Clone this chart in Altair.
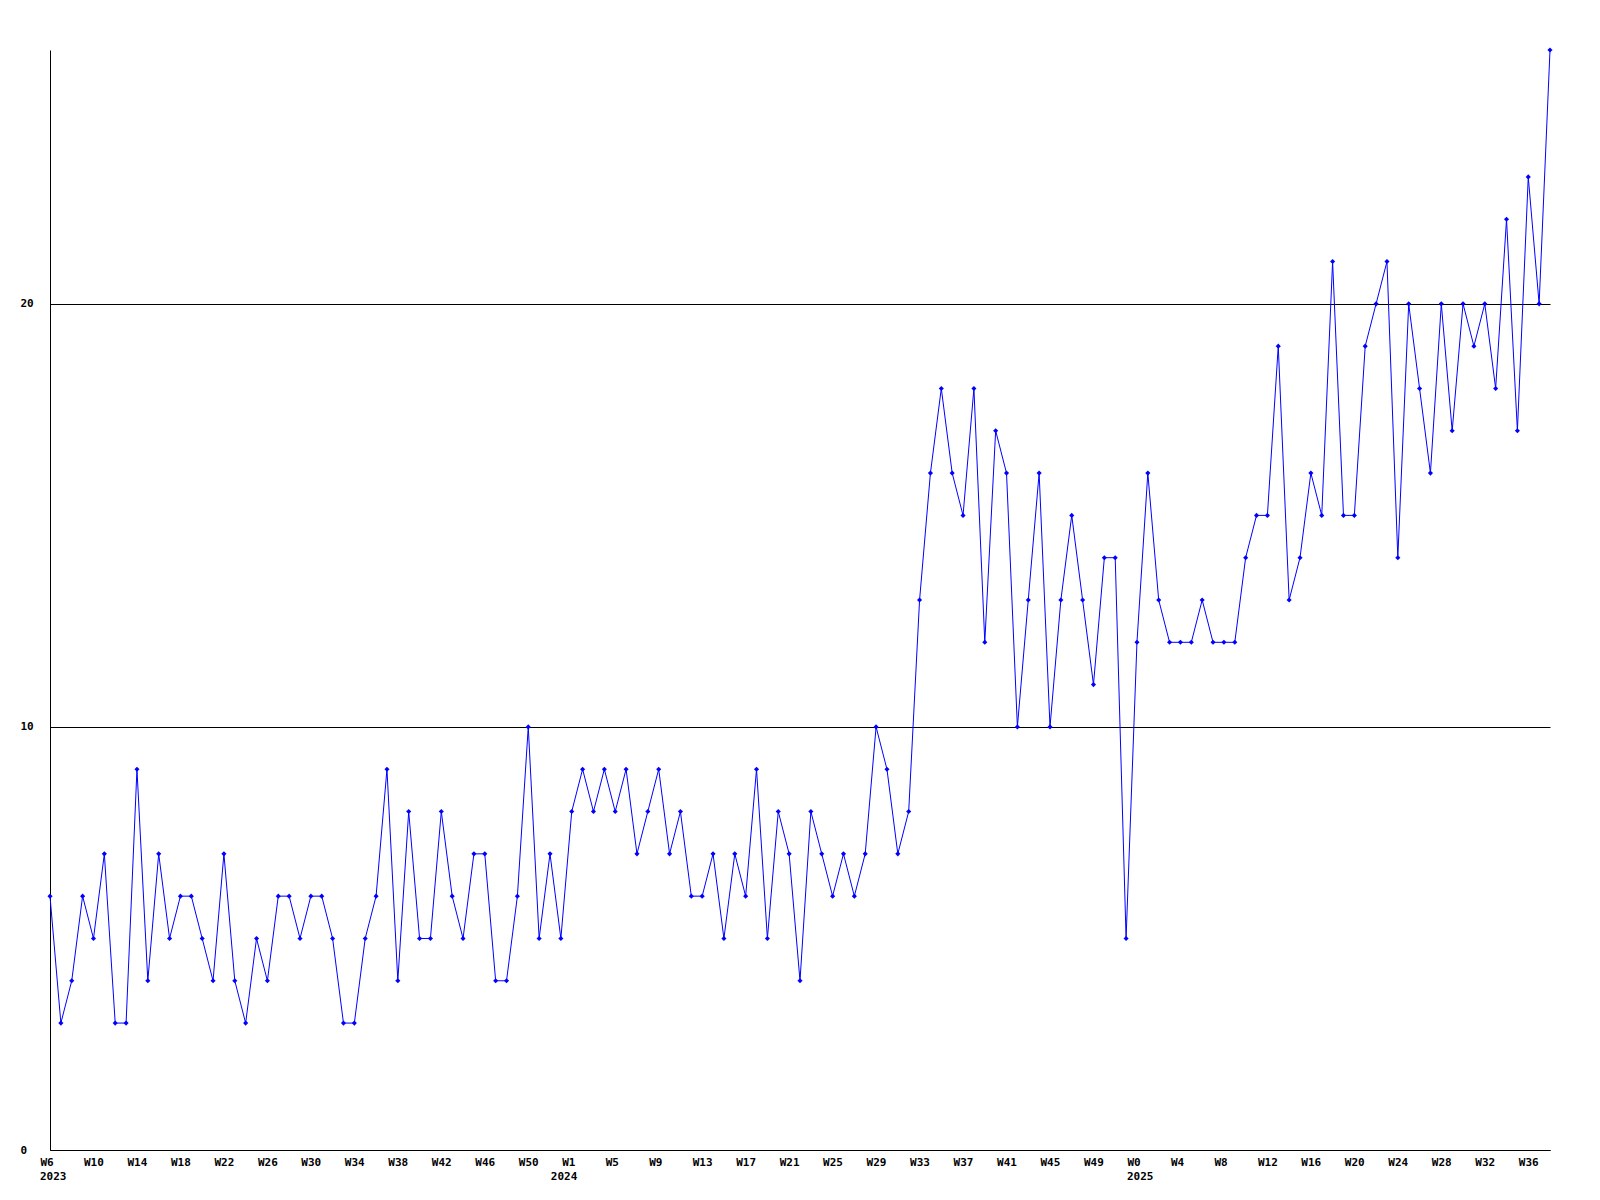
import altair as alt
import pandas as pd

# weekly values, W6 2023 ... W38 2025 (139 weeks)
values = [
    6, 3, 4, 6, 5, 7, 3, 3, 9, 4, 7, 5, 6, 6, 5, 4, 7, 4, 3, 5,
    4, 6, 6, 5, 6, 6, 5, 3, 3, 5, 6, 9, 4, 8, 5, 5, 8, 6, 5, 7,
    7, 4, 4, 6,
    10, 5, 7, 5, 8, 9, 8, 9, 8, 9, 7, 8, 9, 7, 8, 6, 6, 7, 5, 7,
    6, 9, 5, 8, 7, 4, 8, 7, 6, 7, 6, 7, 10, 9, 7, 8,
    13, 16, 18, 16, 15, 18, 12, 17, 16, 10, 13, 16, 10, 13, 15, 13, 11, 14, 14, 5,
    12, 16, 13, 12, 12, 12, 13, 12, 12, 12, 14,
    15, 15, 19, 13, 14, 16, 15, 21, 15, 15, 19, 20, 21, 14, 20, 18, 16, 20, 17, 20,
    19, 20, 18, 22, 17, 23, 20, 26,
]

tick_index = list(range(0, 45, 4)) + list(range(48, 97, 4)) + list(range(100, 137, 4))
tick_text = [
    "W6", "W10", "W14", "W18", "W22", "W26", "W30", "W34", "W38", "W42", "W46", "W50",
    "W1", "W5", "W9", "W13", "W17", "W21", "W25", "W29", "W33", "W37", "W41", "W45", "W49",
    "W0", "W4", "W8", "W12", "W16", "W20", "W24", "W28", "W32", "W36",
]
year_index = [0, 47, 100]
year_text = ["2023", "2024", "2025"]

y_ticks = [0, 10, 20]

n = len(values)
df = pd.DataFrame({"idx": list(range(n)), "value": values})
years = pd.DataFrame({"idx": year_index, "year": year_text})

lookup = [""] * n
for i, t in zip(tick_index, tick_text):
    lookup[i] = t
label_expr = "[" + ",".join("'" + s + "'" for s in lookup) + "][datum.value]"

FONT = "DejaVu Sans Mono"
W, H = 1500, 1100
BLUE = "#0000ff"

x_axis = alt.Axis(
    values=tick_index,
    labelExpr=label_expr,
    title=None,
    grid=False,
    ticks=False,
    tickSize=0,
    labelAlign="left",
    labelOffset=-10,
    labelPadding=6,
    labelBaseline="top",
    labelFont=FONT,
    labelFontSize=11,
    labelFontWeight="bold",
    labelColor="black",
    domainColor="black",
    domainWidth=1,
    labelOverlap=False,
    labelFlush=False,
)
y_axis = alt.Axis(
    values=y_ticks,
    title=None,
    grid=True,
    gridColor="black",
    gridOpacity=1,
    gridWidth=1,
    ticks=False,
    tickSize=0,
    labelAlign="left",
    labelPadding=30,
    labelBaseline="middle",
    labelFont=FONT,
    labelFontSize=11,
    labelFontWeight="bold",
    labelColor="black",
    domainColor="black",
    domainWidth=1,
    labelOverlap=False,
    labelFlush=False,
)
x_scale = alt.Scale(domain=[0, n - 1], nice=False, zero=False)
y_scale = alt.Scale(domain=[0, 26], nice=False, zero=True)

x_enc = alt.X("idx:Q", scale=x_scale, axis=x_axis)
y_enc = alt.Y("value:Q", scale=y_scale, axis=y_axis)

line = alt.Chart(df).mark_line(color=BLUE, strokeWidth=1).encode(x=x_enc, y=y_enc)
pts = alt.Chart(df).mark_point(shape="diamond", filled=True, size=26, color=BLUE, opacity=1).encode(
    x=x_enc, y=y_enc
)
yr = alt.Chart(years).mark_text(
    align="left", baseline="top", dx=-10, font=FONT, fontSize=11, fontWeight="bold", color="black"
).encode(x=x_enc, y=alt.value(H + 21), text="year:N")

chart = (
    alt.layer(line, pts, yr)
    .properties(
        width=W,
        height=H,
        autosize=alt.AutoSizeParams(type="none"),
        padding={"left": 42, "top": 42, "right": 42, "bottom": 42},
        background="white",
    )
    .configure_view(strokeWidth=0)
)

chart.save("out.html", embed_options={"renderer": "svg", "actions": False})
